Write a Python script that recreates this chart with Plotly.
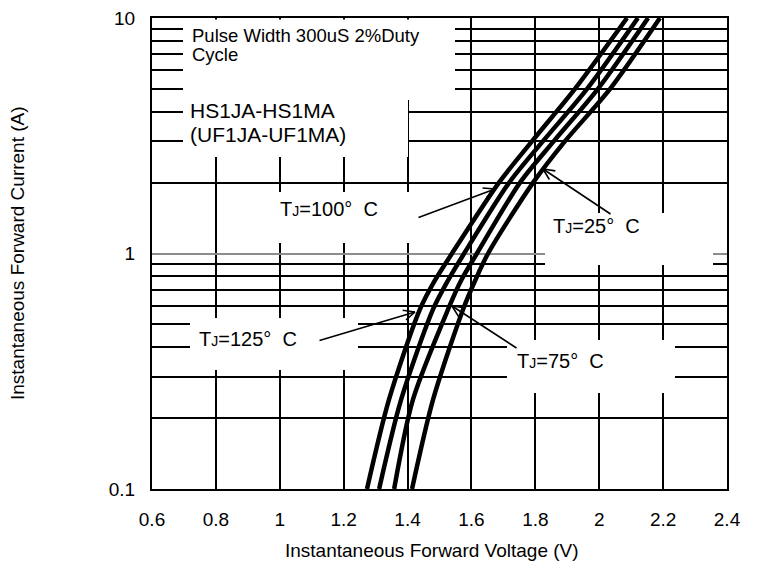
import math
import plotly.graph_objects as go

# ---------------- data ----------------
current_A = [0.1, 0.24, 0.58, 0.77, 1.0, 2.0, 3.0, 5.0, 10.0]
vf_125C = [1.273, 1.342, 1.439, 1.486, 1.539, 1.686, 1.790, 1.924, 2.087]
vf_100C = [1.311, 1.380, 1.480, 1.527, 1.577, 1.718, 1.824, 1.962, 2.121]
vf_75C = [1.358, 1.417, 1.527, 1.568, 1.617, 1.752, 1.858, 1.996, 2.153]
vf_25C = [1.414, 1.480, 1.574, 1.612, 1.652, 1.793, 1.893, 2.034, 2.190]

x_tick_vals = [0.6, 0.8, 1.0, 1.2, 1.4, 1.6, 1.8, 2.0, 2.2, 2.4]
x_tick_text = ["0.6", "0.8", "1", "1.2", "1.4", "1.6", "1.8", "2", "2.2", "2.4"]
y_tick_vals = [0.1, 1, 10]
y_tick_text = ["0.1", "1", "10"]
y_minor_grid = [0.2, 0.3, 0.4, 0.5, 0.6, 0.7, 0.8, 0.9, 2, 3, 4, 5, 6, 7, 8, 9]

FONT = "Liberation Sans, Arial, sans-serif"

# ---------------- geometry helpers (page pixel -> paper / axis) ----------------
OFF = 8                      # default page margin of the html body
L, T, W, H = 152, 18, 575, 471
FIG_W, FIG_H = 762 - OFF, 562 - OFF


def px(x):
    return (x - L) / W


def py(y):
    return (T + H - y) / H


def ax_x(x):
    return 0.6 + (x - L) * 1.8 / W


def ax_ly(y):
    return -1 + (T + H - y) * 2.0 / H


fig = go.Figure()
for v in [vf_125C, vf_100C, vf_75C, vf_25C]:
    fig.add_trace(go.Scatter(x=v, y=current_A, mode="lines",
                             line=dict(color="black", width=4.5, shape="spline", smoothing=0.8),
                             showlegend=False, hoverinfo="skip"))

shapes = []
# white label boxes (page-pixel boxes) hiding the grid behind the texts
boxes = [(183, 19.5, 455, 100), (183, 100, 408, 157), (240, 192, 415, 243),
         (190, 318, 358, 370), (507, 340, 675, 393), (545, 213, 713, 265)]
for (x0, y0, x1, y1) in boxes:
    shapes.append(dict(type="rect", xref="paper", yref="paper",
                       x0=px(x0), x1=px(x1), y0=py(y1), y1=py(y0),
                       fillcolor="white", line=dict(width=0), layer="above"))

annotations = []


def text_ann(text, x, y, size, xanchor="left"):
    annotations.append(dict(text=text, xref="paper", yref="paper", x=px(x), y=py(y),
                            xanchor=xanchor, yanchor="middle", showarrow=False,
                            font=dict(family=FONT, size=size, color="black")))


text_ann("Pulse Width 300uS 2%Duty", 190, 36, 18.5)
text_ann("Cycle", 190, 55, 18.5)
text_ann("HS1JA-HS1MA", 188, 111, 21)
text_ann("(UF1JA-UF1MA)", 188, 135, 21)


def tj(t):
    return "T<span style='font-size:14px'>J</span>=" + t + "°\u00a0\u00a0C"


text_ann(tj("100"), 329, 209, 20, "center")
text_ann(tj("125"), 248, 339, 20, "center")
text_ann(tj("75"), 560, 361, 20, "center")
text_ann(tj("25"), 596, 226, 20, "center")


def arrow(tail, tip):
    tx, ty = tip
    sx, sy = tail
    annotations.append(dict(text="", x=ax_x(tx), y=ax_ly(ty), xref="x", yref="y",
                            ax=sx - tx, ay=sy - ty, showarrow=True, arrowhead=0,
                            arrowwidth=1.6, arrowcolor="black"))
    d = math.hypot(sx - tx, sy - ty)
    ux, uy = (sx - tx) / d, (sy - ty) / d
    for s in (1, -1):
        a = math.radians(25) * s
        wx = ux * math.cos(a) - uy * math.sin(a)
        wy = ux * math.sin(a) + uy * math.cos(a)
        annotations.append(dict(text="", x=ax_x(tx), y=ax_ly(ty), xref="x", yref="y",
                                ax=14 * wx, ay=14 * wy, showarrow=True, arrowhead=0,
                                arrowwidth=1.6, arrowcolor="black"))


arrow((318, 341), (415, 312))
arrow((417, 218), (495, 189))
arrow((518, 349), (452, 306))
arrow((612, 215), (543, 169))

# axis titles
annotations.append(dict(text="Instantaneous Forward Voltage (V)", xref="paper", yref="paper",
                        x=px(432), y=py(550), xanchor="center", yanchor="middle",
                        showarrow=False, font=dict(family=FONT, size=19, color="black")))
annotations.append(dict(text="Instantaneous Forward Current (A)", xref="paper", yref="paper",
                        x=px(17), y=py(253), xanchor="center", yanchor="middle", textangle=-90,
                        showarrow=False, font=dict(family=FONT, size=19, color="black")))

fig.update_layout(
    width=FIG_W, height=FIG_H,
    margin=dict(l=L - OFF, r=FIG_W - (L - OFF) - W, t=T - OFF, b=FIG_H - (T - OFF) - H,
                pad=0, autoexpand=False),
    paper_bgcolor="white", plot_bgcolor="white",
    shapes=shapes, annotations=annotations,
    font=dict(family=FONT, size=19, color="black"),
)
fig.update_xaxes(range=[0.6, 2.4], tickmode="array", tickvals=x_tick_vals, ticktext=x_tick_text,
                 showgrid=True, gridcolor="black", gridwidth=1.6, zeroline=False,
                 showline=True, linecolor="black", linewidth=2, mirror=True,
                 ticks="outside", ticklen=12, tickcolor="rgba(0,0,0,0)",
                 ticklabeloverflow="allow",
                 tickfont=dict(family=FONT, size=19, color="black"))
fig.update_yaxes(type="log", range=[-1, 1], tickmode="array", tickvals=y_tick_vals,
                 ticktext=y_tick_text, showgrid=True, gridcolor="#8c8c8c", gridwidth=2,
                 minor=dict(tickmode="array", tickvals=y_minor_grid, showgrid=True,
                            gridcolor="black", gridwidth=1.6, ticks=""),
                 zeroline=False, showline=True, linecolor="black", linewidth=2, mirror=True,
                 ticks="outside", ticklen=11, tickcolor="rgba(0,0,0,0)",
                 ticklabeloverflow="allow",
                 tickfont=dict(family=FONT, size=19, color="black"))

fig.write_html("out.html")
